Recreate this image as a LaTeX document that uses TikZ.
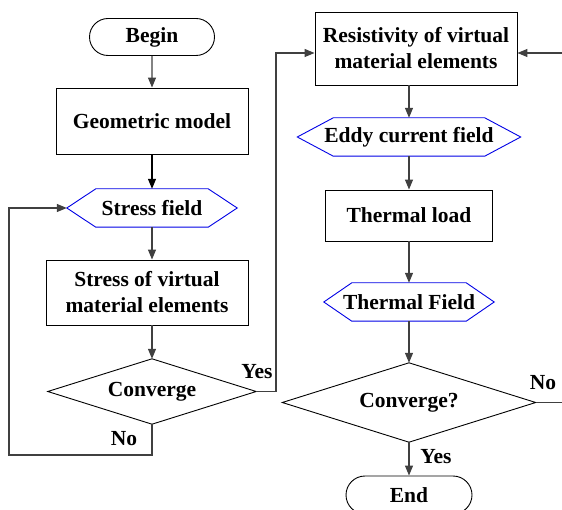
\documentclass[tikz,border=0pt]{standalone}
\usepackage{fontspec}
\setmainfont{Liberation Serif}
\usetikzlibrary{shapes.geometric,shapes.misc,arrows.meta}
\begin{document}
\begin{tikzpicture}[x=1pt,y=-1pt,
  every node/.style={font=\fontsize{21.5}{26}\selectfont\bfseries, align=center, inner sep=0pt},
  shapeline/.style={draw=black, line width=0.9pt},
  term/.style={shapeline, rounded rectangle},
  proc/.style={shapeline, rectangle},
  hexbox/.style={rectangle},
  hexline/.style={draw=blue!90!black, line width=0.9pt},
  decbox/.style={rectangle},
  conn/.style={draw=black!75, line width=1.2pt},
  arr/.style={conn, -{Triangle[length=10pt,width=8pt]}},
  lbl/.style={font=\fontsize{21.5}{26}\selectfont\bfseries}
]
\useasboundingbox (0,0) rectangle (562,510);
\clip (0,0) rectangle (562,510);

% left column
\node[term, minimum width=125, minimum height=37] (begin) at (152,37) {Begin};
\node[proc, minimum width=192, minimum height=66] (geo) at (152,121) {Geometric model};
\node[hexbox, minimum width=170, minimum height=38] (stress) at (152,208) {Stress field};
\draw[hexline] (stress.west) -- ([xshift=29]stress.north west) -- ([xshift=-29]stress.north east) -- (stress.east) -- ([xshift=-29]stress.south east) -- ([xshift=29]stress.south west) -- cycle;
\node[proc, minimum width=202, minimum height=65] (svme) at (147,292.5) {Stress of virtual\\material elements};
\node[decbox, minimum width=208, minimum height=65] (conv1) at (152,391.5) {Converge};
\draw[shapeline] (conv1.west) -- (conv1.north) -- (conv1.east) -- (conv1.south) -- cycle;

% right column
\node[proc, minimum width=202, minimum height=73] (res) at (416,48.5) {Resistivity of virtual\\material elements};
\node[hexbox, minimum width=223, minimum height=38] (eddy) at (409,137) {Eddy current field};
\draw[hexline] (eddy.west) -- ([xshift=36]eddy.north west) -- ([xshift=-36]eddy.north east) -- (eddy.east) -- ([xshift=-36]eddy.south east) -- ([xshift=36]eddy.south west) -- cycle;
\node[proc, minimum width=167, minimum height=51] (tload) at (409,215.5) {Thermal load};
\node[hexbox, minimum width=170, minimum height=38] (tfield) at (409,302) {Thermal Field};
\draw[hexline] (tfield.west) -- ([xshift=28]tfield.north west) -- ([xshift=-28]tfield.north east) -- (tfield.east) -- ([xshift=-28]tfield.south east) -- ([xshift=28]tfield.south west) -- cycle;
\node[decbox, minimum width=253, minimum height=79] (conv2) at (409,402.5) {Converge?};
\draw[shapeline] (conv2.west) -- (conv2.north) -- (conv2.east) -- (conv2.south) -- cycle;
\node[term, minimum width=126, minimum height=38] (end) at (409,495) {End};

% free ends
\coordinate (lp) at (9,455);
\coordinate (yx) at (276,391.5);
\coordinate (rin) at (562,53);
\coordinate (nout) at (562,402.5);

% connectors left
\draw[arr] (begin) -- (geo);
\draw[arr, draw=black] (geo) -- (stress.north);
\draw[arr] (stress.south) -- (stress.south |- svme.north);
\draw[arr] (svme.south -| conv1.north) -- (conv1.north);
\draw[arr] (conv1.south) |- (lp) |- (stress.west);
\draw[arr] (conv1.east) -- (yx) |- ([yshift=-4.5]res.west);

% connectors right
\draw[arr] (rin) -- ([yshift=-4.5]res.east);
\draw[arr] (res.south -| eddy.north) -- (eddy.north);
\draw[arr] (eddy.south) -- (tload.north);
\draw[arr] (tload.south) -- (tfield.north);
\draw[arr] (tfield.south) -- (conv2.north);
\draw[conn] (conv2.east) -- (nout);
\draw[arr] (conv2.south) -- (end.north);

% labels
\node[lbl] (lyes1) at (257,372) {Yes};
\node[lbl] (lno1) at (124,439) {No};
\node[lbl] (lno2) at (543,383) {No};
\node[lbl] (lyes2) at (436,457) {Yes};
\end{tikzpicture}
\end{document}
